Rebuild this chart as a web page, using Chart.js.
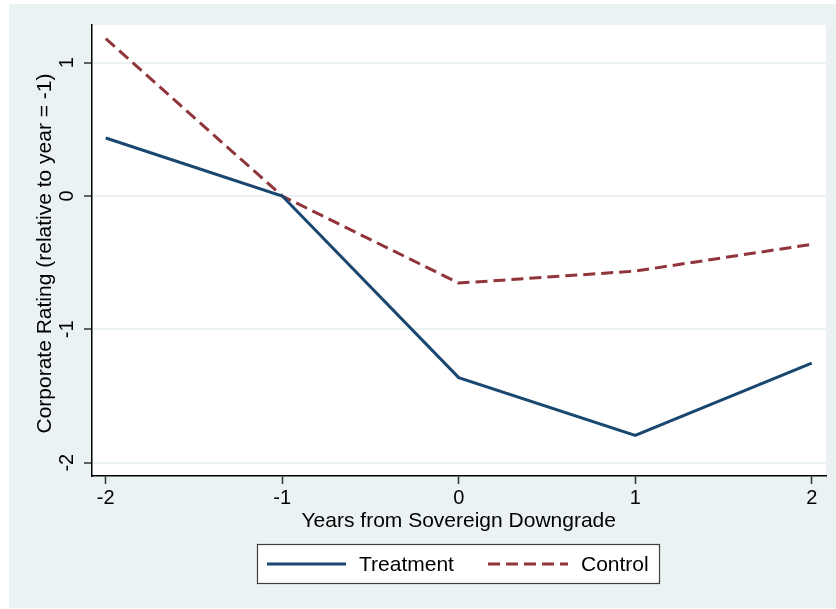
<!DOCTYPE html>
<html>
<head>
<meta charset="utf-8">
<script src="https://cdn.jsdelivr.net/npm/chart.js@4.4.1/dist/chart.umd.min.js"></script>
<style>
  html, body { margin: 0; padding: 0; background: #ffffff; }
  #wrap { position: relative; width: 836px; height: 609px; }
</style>
</head>
<body>
<div id="wrap"><canvas id="chart" width="836" height="609"></canvas></div>
<script>
// Years relative to the sovereign downgrade
const years = [-2, -1, 0, 1, 2];
// Corporate rating change relative to year -1
const treatment = [0.435, 0, -1.362, -1.795, -1.253];
const control = [1.18, 0, -0.653, -0.563, -0.362];
// Axis ticks
const xTicks = [-2, -1, 0, 1, 2];
const yTicks = [-2, -1, 0, 1];

const seriesNames = ['Treatment', 'Control'];
const xTitle = 'Years from Sovereign Downgrade';
const yTitle = 'Corporate Rating (relative to year = -1)';

const BG = '#eaf2f3';
const NAVY = '#1a476f';
const MAROON = '#90353b';
const FONT = '"Liberation Sans", Arial, sans-serif';

const toPoints = (vals) => years.map((x, i) => ({ x: x, y: vals[i] }));

// Light panel behind the plot region, plus rotated y labels, titles and framed legend
const decor = {
  id: 'decor',
  beforeDraw(chart) {
    const ctx = chart.ctx;
    const a = chart.chartArea;
    ctx.save();
    ctx.fillStyle = '#ffffff';
    ctx.fillRect(0, 0, chart.width, chart.height);
    ctx.fillStyle = BG;
    ctx.fillRect(9, 4, chart.width - 9, 604);
    ctx.fillStyle = '#ffffff';
    ctx.fillRect(a.left, a.top, a.right - a.left, a.bottom - a.top);
    ctx.restore();
  },
  afterDraw(chart) {
    const ctx = chart.ctx;
    const ys = chart.scales.y;
    const xs = chart.scales.x;
    ctx.save();
    ctx.fillStyle = '#000000';

    // y tick labels, rotated
    ctx.font = '20px ' + FONT;
    ctx.textAlign = 'center';
    ctx.textBaseline = 'alphabetic';
    ys.ticks.forEach(t => {
      const py = ys.getPixelForValue(t.value);
      ctx.save();
      ctx.translate(73, py);
      ctx.rotate(-Math.PI / 2);
      ctx.fillText(String(t.value), 0, 0);
      ctx.restore();
    });

    // y axis title
    ctx.font = '21px ' + FONT;
    ctx.save();
    ctx.translate(51, (chart.chartArea.top + chart.chartArea.bottom) / 2 + 3);
    ctx.rotate(-Math.PI / 2);
    ctx.fillText(yTitle, 0, 0);
    ctx.restore();

    // x axis title
    ctx.fillText(xTitle, xs.getPixelForValue(0), 527);

    // legend frame
    const lx = 257, ly = 544, lw = 402, lh = 39;
    ctx.fillStyle = '#ffffff';
    ctx.fillRect(lx, ly, lw, lh);
    ctx.strokeStyle = '#404040';
    ctx.lineWidth = 1.2;
    ctx.strokeRect(lx + 0.5, ly + 0.5, lw, lh);

    const ds = chart.data.datasets;
    const entries = [
      { x0: 267, x1: 346, tx: 359, d: ds[0] },
      { x0: 488, x1: 568, tx: 581, d: ds[1] }
    ];
    entries.forEach(e => {
      ctx.beginPath();
      ctx.strokeStyle = e.d.borderColor;
      ctx.lineWidth = e.d.borderWidth;
      ctx.setLineDash(e.d.borderDash || []);
      ctx.moveTo(e.x0, 564);
      ctx.lineTo(e.x1, 564);
      ctx.stroke();
      ctx.setLineDash([]);
      ctx.fillStyle = '#000000';
      ctx.font = '21px ' + FONT;
      ctx.textAlign = 'left';
      ctx.fillText(e.d.label, e.tx, 571);
    });
    ctx.restore();
  }
};

new Chart(document.getElementById('chart'), {
  type: 'line',
  data: {
    datasets: [
      {
        label: seriesNames[0],
        data: toPoints(treatment),
        borderColor: NAVY,
        borderWidth: 3,
        pointRadius: 0,
        tension: 0,
        fill: false
      },
      {
        label: seriesNames[1],
        data: toPoints(control),
        borderColor: MAROON,
        borderWidth: 3,
        borderDash: [12, 6],
        pointRadius: 0,
        tension: 0,
        fill: false
      }
    ]
  },
  options: {
    responsive: false,
    animation: false,
    events: [],
    layout: { padding: { top: 25, right: 10, left: 0, bottom: 0 } },
    plugins: {
      legend: { display: false },
      tooltip: { enabled: false }
    },
    scales: {
      x: {
        type: 'linear',
        min: -2.078,
        max: 2.081,
        afterBuildTicks: (s) => { s.ticks = xTicks.map(v => ({ value: v })); },
        afterFit: (s) => { s.height = 133; },
        ticks: {
          color: '#000000',
          font: { family: FONT, size: 20 },
          padding: 2,
          maxRotation: 0,
          minRotation: 0,
          callback: (v) => String(v)
        },
        grid: {
          drawOnChartArea: false,
          drawTicks: true,
          tickLength: 8,
          tickColor: '#333333',
          tickWidth: 1.5
        },
        border: { color: '#000000', width: 1.5 }
      },
      y: {
        type: 'linear',
        min: -2.1,
        max: 1.283,
        afterBuildTicks: (s) => { s.ticks = yTicks.map(v => ({ value: v })); },
        afterFit: (s) => { s.width = 92; },
        ticks: { display: false },
        grid: {
          color: BG,
          lineWidth: 2,
          drawTicks: true,
          tickLength: 8,
          tickColor: '#333333',
          tickWidth: 1.5
        },
        border: { color: '#000000', width: 1.5 }
      }
    }
  },
  plugins: [decor]
});
</script>
</body>
</html>
